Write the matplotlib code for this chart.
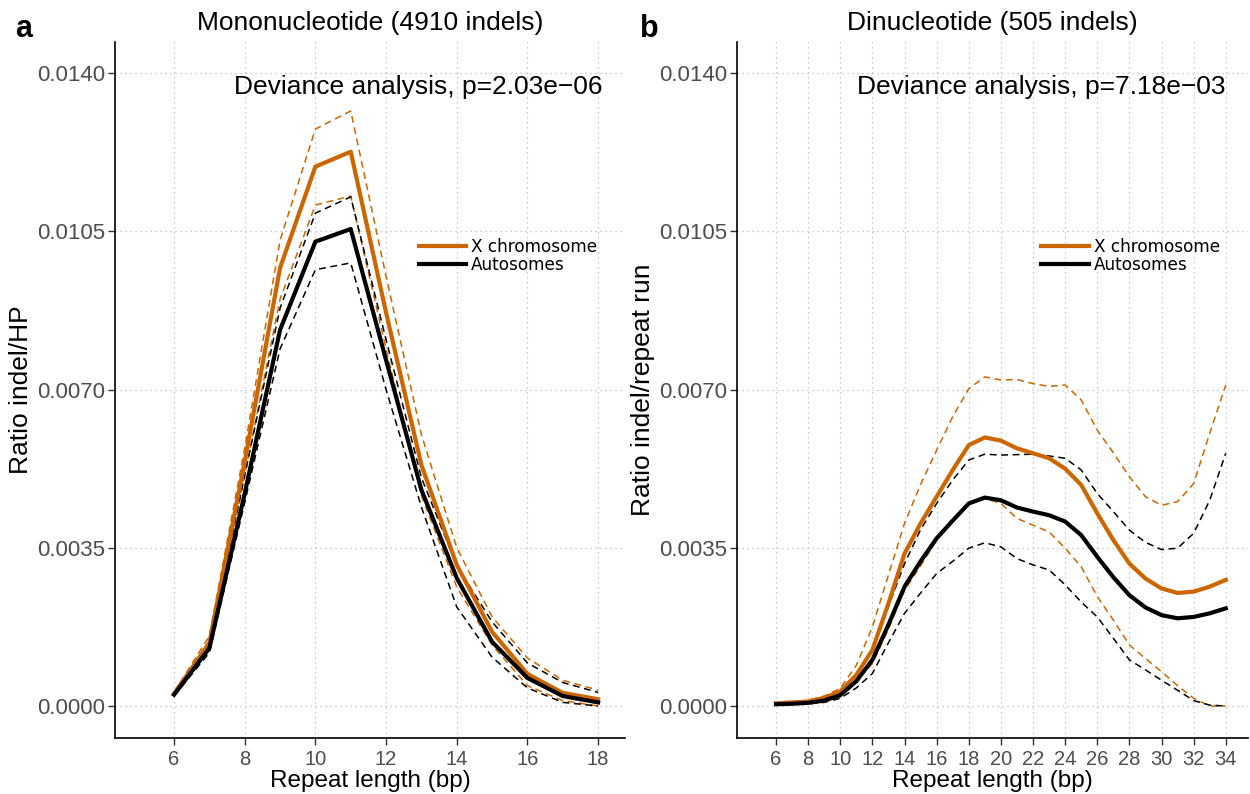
import matplotlib
matplotlib.use("Agg")
import matplotlib.pyplot as plt
import numpy as np

# panel a: mononucleotide
mono_x=[6,7,8,9,10,11,12,13,14,15,16,17,18]
mono_X=[0.00027,0.00140,0.0054,0.00969,0.01193,0.01226,0.0087,0.00533,0.00312,0.00164,0.00071,0.00029,0.00015]
mono_X_hi=[0.00030,0.00155,0.0057,0.0103,0.01276,0.01316,0.0095,0.00600,0.0035,0.00197,0.00106,0.00057,0.00035]
mono_X_lo=[0.00024,0.00125,0.0051,0.0090,0.01108,0.01128,0.0079,0.00465,0.00263,0.00135,0.00045,0.00012,0.0]
mono_A=[0.00025,0.00128,0.0047,0.00832,0.01027,0.01055,0.00765,0.00478,0.00283,0.00142,0.00062,0.00022,0.00008]
mono_A_hi=[0.00028,0.00138,0.0051,0.0088,0.0109,0.01126,0.0081,0.00505,0.0031,0.00186,0.00095,0.00052,0.00030]
mono_A_lo=[0.00022,0.00118,0.0045,0.0079,0.00965,0.0098,0.0070,0.00440,0.00219,0.00108,0.00040,0.00008,0.0]

# panel b: dinucleotide
di_x=list(range(6,35))
di_X=[0.00006,0.00008,0.0001,0.00018,0.00032,0.00069,0.00124,0.00227,0.00337,0.00404,0.00463,0.00522,0.00577,0.00594,0.00587,
      0.0057,0.00559,0.00548,0.00525,0.00489,0.00426,0.00367,0.00315,0.00282,0.0026,0.0025,0.00253,0.00264,0.00279]
di_X_hi=[0.00006,0.00009,0.00013,0.00022,0.00039,0.0009,0.00175,0.0029,0.00404,0.0049,0.00566,0.0064,0.00702,0.00728,0.00721,
         0.00722,0.00713,0.00707,0.0071,0.00677,0.0061,0.0056,0.00507,0.00463,0.00444,0.00452,0.00492,0.00603,0.0071]
di_X_lo=[0.00005,0.00007,0.00009,0.00015,0.00028,0.00055,0.00094,0.0017,0.00256,0.0031,0.00367,0.0041,0.00448,0.00459,0.00448,
         0.00415,0.004,0.00385,0.00349,0.00308,0.00242,0.0019,0.00135,0.00105,0.00076,0.00045,0.00017,0.0,0.0]
di_A=[0.00004,0.00005,0.00007,0.00012,0.00024,0.00055,0.00102,0.0018,0.00264,0.0032,0.00371,0.0041,0.00448,0.00461,0.00455,
      0.00439,0.0043,0.00422,0.00408,0.00378,0.0033,0.00285,0.00245,0.00218,0.00201,0.00194,0.00197,0.00205,0.00216]
di_A_hi=[0.00005,0.00007,0.0001,0.00017,0.00032,0.0007,0.00124,0.0022,0.00315,0.0039,0.00448,0.005,0.00544,0.00557,0.00555,
         0.00556,0.00557,0.00553,0.00548,0.00522,0.0047,0.0043,0.00389,0.00362,0.00346,0.00349,0.00382,0.00455,0.00559]
di_A_lo=[0.00003,0.00004,0.00005,0.00008,0.00017,0.0004,0.00072,0.0014,0.00205,0.0025,0.00293,0.0032,0.00349,0.00361,0.00352,
         0.00326,0.00312,0.00301,0.00268,0.0023,0.00197,0.0015,0.00102,0.0008,0.00057,0.00035,0.00012,0.00002,0.0]

y_ticks=[0.0,0.0035,0.0070,0.0105,0.0140]
orange="#CD6600"
font="Liberation Sans"

fig=plt.figure(figsize=(12.5,7.94),dpi=100)

def panel(rect,x,X,Xhi,Xlo,A,Ahi,Alo,xlim,xticks,title,ylabel,ptext,legpos):
    ax=fig.add_axes(rect)
    dash=(0,(4.5,3))
    ax.plot(x,Xhi,color=orange,lw=1.1,linestyle=dash)
    ax.plot(x,Xlo,color=orange,lw=1.1,linestyle=dash)
    ax.plot(x,Ahi,color="black",lw=1.1,linestyle=dash)
    ax.plot(x,Alo,color="black",lw=1.1,linestyle=dash)
    ax.plot(x,X,color=orange,lw=3.0,label="X chromosome")
    ax.plot(x,A,color="black",lw=3.0,label="Autosomes")
    ax.set_xlim(xlim)
    ax.set_ylim(-0.000708,0.014686)
    ax.set_xticks(xticks)
    ax.set_yticks(y_ticks)
    ax.set_yticklabels(["%.4f"%v for v in y_ticks])
    ax.grid(True,linestyle=(0,(1,3)),color="#bbbbbb",lw=0.9)
    for s in ["top","right"]:
        ax.spines[s].set_visible(False)
    for s in ["left","bottom"]:
        ax.spines[s].set_linewidth(1.2)
    ax.tick_params(labelcolor="#4d4d4d",length=5,width=1,color="#333333")
    ax.tick_params(axis="x",labelsize=14.5)
    ax.tick_params(axis="y",labelsize=16,pad=2)
    for lab in ax.get_xticklabels()+ax.get_yticklabels():
        lab.set_fontfamily(font)
    ax.set_title(title,fontsize=19,family=font,pad=9)
    ax.set_xlabel("Repeat length (bp)",fontsize=17.5,family=font,labelpad=1)
    ax.set_ylabel(ylabel,fontsize=19,family=font,labelpad=3)
    ax.text(0.955,0.935,ptext,transform=ax.transAxes,ha="right",va="center",fontsize=19,family=font)
    ax.legend(loc="center left",bbox_to_anchor=legpos,frameon=False,fontsize=12.2,
              handlelength=2.8,handletextpad=0.3,labelspacing=0.0,borderaxespad=0)
    return ax

panel([0.092,0.0705,0.408,0.8766],mono_x,mono_X,mono_X_hi,mono_X_lo,mono_A,mono_A_hi,mono_A_lo,
      (4.33,18.76),[6,8,10,12,14,16,18],"Mononucleotide (4910 indels)","Ratio indel/HP",
      "Deviance analysis, p=2.03e\u221206",(0.582,0.692))
panel([0.5896,0.0705,0.409,0.8766],di_x,di_X,di_X_hi,di_X_lo,di_A,di_A_hi,di_A_lo,
      (3.57,35.4),list(range(6,35,2)),"Dinucleotide (505 indels)","Ratio indel/repeat run",
      "Deviance analysis, p=7.18e\u221203",(0.582,0.692))

fig.text(0.012,0.963,"a",fontsize=22,fontweight="bold",family=font,va="center")
fig.text(0.512,0.963,"b",fontsize=22,fontweight="bold",family=font,va="center")

plt.savefig("out.png",dpi=100)
